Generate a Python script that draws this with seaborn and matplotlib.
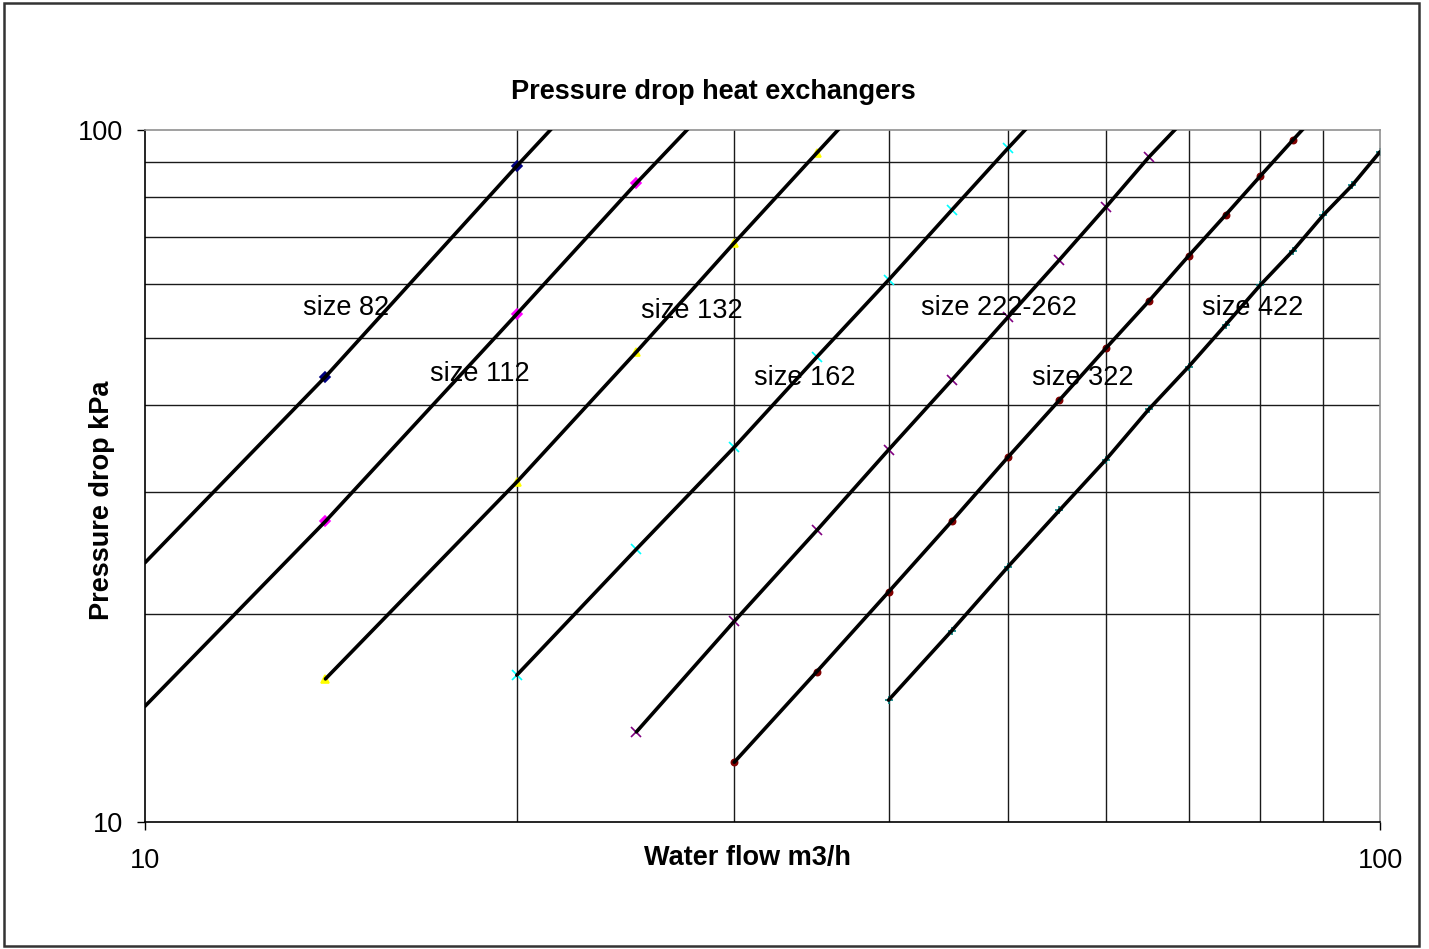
import matplotlib
matplotlib.use("Agg")
import matplotlib.pyplot as plt
import seaborn as sns
import pandas as pd
from matplotlib.patches import Rectangle
from matplotlib.ticker import FixedLocator, NullFormatter, NullLocator

# water flow (m3/h) and pressure drop (kPa), one pair per size
flow_82 = [10, 14, 20, 25]
dp_82 = [23.7, 44.0, 88.7, 136.0]

flow_112 = [10, 14, 20, 25, 30]
dp_112 = [14.7, 27.2, 54.2, 83.8, 118.0]

flow_132 = [14, 20, 25, 30, 35, 40]
dp_132 = [16.1, 31.0, 47.8, 68.7, 92.7, 120.0]

flow_162 = [20, 25, 30, 35, 40, 45, 50, 55]
dp_162 = [16.3, 24.8, 34.8, 47.0, 60.7, 76.6, 94.2, 113.0]

flow_222 = [25, 30, 35, 40, 45, 50, 55, 60, 65, 70]
dp_222 = [13.5, 19.5, 26.4, 34.5, 43.5, 53.7, 64.9, 77.4, 91.4, 105.0]

flow_322 = [30, 35, 40, 45, 50, 55, 60, 65, 70, 75, 80, 85, 90]
dp_322 = [12.2, 16.5, 21.5, 27.2, 33.7, 40.7, 48.4, 56.6, 65.8, 75.4, 85.8, 96.7, 108.0]

flow_422 = [40, 45, 50, 55, 60, 65, 70, 75, 80, 85, 90, 95, 100]
dp_422 = [15.0, 18.9, 23.4, 28.2, 33.4, 39.5, 45.5, 52.3, 59.7, 66.9, 75.4, 83.3, 93.0]

size_names = ["size 82", "size 112", "size 132", "size 162", "size 222-262", "size 322", "size 422"]

# label anchor points (data coords)
label_x = [14.55, 18.67, 27.73, 34.22, 49.15, 57.5, 78.9]
label_y = [55.3, 44.4, 54.8, 43.8, 55.3, 43.8, 55.3]

series = [(flow_82, dp_82), (flow_112, dp_112), (flow_132, dp_132), (flow_162, dp_162),
          (flow_222, dp_222), (flow_322, dp_322), (flow_422, dp_422)]

# excel-ish default marker styles
marker_colors = ["#000080", "#FF00FF", "#FFFF00", "#00FFFF", "#800080", "#800000", "#008080"]
marker_shapes = ["D", "D", "^", "x", "x", "o", "+"]
marker_sizes = [5, 5, 6, 7, 7.5, 4.5, 6]

sns.set_theme(style="white")
plt.rcParams["font.family"] = ["Liberation Sans", "DejaVu Sans"]
plt.rcParams["text.color"] = "black"
plt.rcParams["xtick.color"] = "black"
plt.rcParams["ytick.color"] = "black"

FS = 19.5

fig = plt.figure(figsize=(14.29, 9.49), dpi=100)
ax = fig.add_axes([145 / 1429, 1 - 822 / 949, 1235 / 1429, 692 / 949])

for (fx, dp), col, mk, ms in zip(series, marker_colors, marker_shapes, marker_sizes):
    df = pd.DataFrame({"flow": fx, "dp": dp})
    sns.lineplot(data=df, x="flow", y="dp", color="black", linewidth=2.6,
                 estimator=None, sort=False, ax=ax, zorder=3)
    # markers only where the point sits inside the plot
    inside = df[(df.flow > 10) & (df.dp <= 100)]
    ax.plot(inside.flow, inside.dp, linestyle="none", marker=mk, color=col,
            markersize=ms, markeredgewidth=1.2, zorder=2)

for name, lx, ly in zip(size_names, label_x, label_y):
    ax.text(lx, ly, name, fontsize=FS, color="black", ha="center", va="center", zorder=4)

ax.set_xscale("log")
ax.set_yscale("log")
ax.set_xlim(10, 100)
ax.set_ylim(10, 100)

ax.xaxis.set_major_locator(FixedLocator([10, 100]))
ax.yaxis.set_major_locator(FixedLocator([10, 100]))
ax.set_xticklabels(["10", "100"])
ax.set_yticklabels(["10", "100"])
ax.xaxis.set_minor_locator(NullLocator())
ax.yaxis.set_minor_locator(NullLocator())
ax.xaxis.set_minor_formatter(NullFormatter())
ax.yaxis.set_minor_formatter(NullFormatter())
ax.tick_params(axis="both", which="major", direction="out", length=6, width=1,
               color="black", labelcolor="black", labelsize=FS, pad=10,
               bottom=True, left=True)
ax.tick_params(axis="x", pad=13)

# grid at every unit step inside the decade
for v in range(20, 100, 10):
    ax.axvline(v, color="#1a1a1a", linewidth=1, zorder=1)
    ax.axhline(v, color="#1a1a1a", linewidth=1, zorder=1)

ax.set_xlabel("")
ax.set_ylabel("")
for side in ["left", "bottom"]:
    ax.spines[side].set_color("black")
    ax.spines[side].set_linewidth(1.2)
for side in ["top", "right"]:
    ax.spines[side].set_color("#909090")
    ax.spines[side].set_linewidth(1.2)

fig.text(713 / 1429, 1 - 92 / 949, "Pressure drop heat exchangers", fontsize=FS,
         fontweight="bold", color="black", ha="center", va="center")
fig.text(747 / 1429, 1 - 858 / 949, "Water flow m3/h", fontsize=FS,
         fontweight="bold", color="black", ha="center", va="center")
fig.text(102 / 1429, 1 - 500 / 949, "Pressure drop kPa", fontsize=FS,
         fontweight="bold", color="black", ha="center", va="center", rotation=90)

# chart area border
fig.patches.append(Rectangle((4 / 1429, 3 / 949), 1415 / 1429, 943 / 949,
                             transform=fig.transFigure, fill=False,
                             edgecolor="#333333", linewidth=1.8))

plt.savefig("out.png", dpi=100)
plt.close()
